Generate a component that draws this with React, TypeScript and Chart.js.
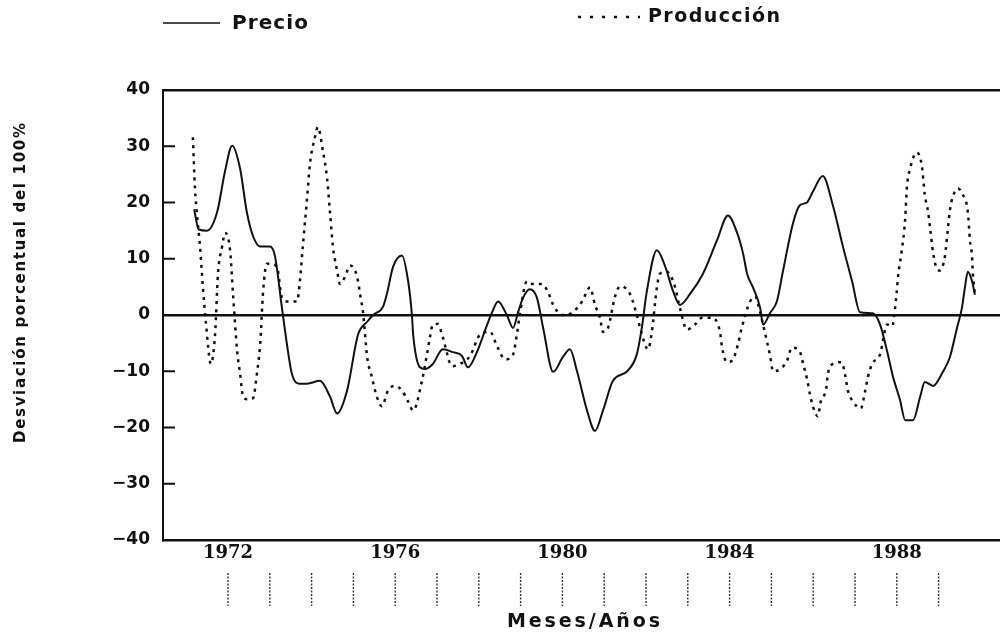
import React, { useEffect, useRef } from 'react';
import { Chart, registerables } from 'chart.js';

Chart.register(...registerables);

// ---- Data ----
const precioYears = [
  1971.19, 1971.3, 1971.5, 1971.74, 1971.93, 1972.1, 1972.29, 1972.45, 1972.6, 1972.77,
  1973.0, 1973.12, 1973.29, 1973.41, 1973.53, 1973.72, 1973.89, 1974.2, 1974.44, 1974.61,
  1974.85, 1975.11, 1975.33, 1975.47, 1975.71, 1975.8, 1975.95, 1976.16, 1976.31, 1976.4,
  1976.43, 1976.59, 1976.71, 1976.9, 1977.14, 1977.38, 1977.6, 1977.74, 1977.96, 1978.2,
  1978.32, 1978.46, 1978.67, 1978.82, 1978.94, 1979.06, 1979.22, 1979.39, 1979.54, 1979.78,
  1980.01, 1980.18, 1980.35, 1980.59, 1980.78, 1980.97, 1981.21, 1981.55, 1981.78, 1981.9,
  1982.02, 1982.26, 1982.45, 1982.65, 1982.81, 1983.05, 1983.36, 1983.7, 1983.96, 1984.18,
  1984.32, 1984.42, 1984.56, 1984.73, 1984.8, 1984.97, 1985.13, 1985.28, 1985.52, 1985.68,
  1985.85, 1985.99, 1986.23, 1986.47, 1986.71, 1986.93, 1987.12, 1987.43, 1987.6, 1987.77,
  1987.91, 1988.08, 1988.2, 1988.39, 1988.56, 1988.67, 1988.87, 1989.11, 1989.27, 1989.44,
  1989.56, 1989.63, 1989.7, 1989.8, 1989.87,
];
const precioValues = [
  18.8, 15.2, 15.0, 18.3, 25.6, 30.1, 26.0, 18.3, 14.0, 12.2,
  12.2, 10.6, 1.3, -5.2, -10.5, -12.2, -12.2, -11.7, -14.5, -17.5,
  -13.4, -3.5, -1.2, 0.0, 1.5, 3.7, 8.6, 10.6, 6.0, 0.0,
  -3.5, -9.3, -9.6, -8.7, -6.1, -6.6, -7.3, -9.3, -6.5, -1.7,
  0.5, 2.4, 0.0, -2.3, 0.5, 3.1, 4.6, 3.1, -2.3, -10.1,
  -7.5, -6.1, -10.0, -17.0, -20.6, -17.0, -11.7, -10.0, -7.0, -2.3,
  4.2, 11.5, 8.8, 4.2, 1.8, 3.7, 7.3, 13.3, 17.7, 14.6,
  11.0, 7.3, 4.9, 1.3, -1.7, 0.4, 2.4, 7.9, 16.4, 19.5,
  20.0, 21.9, 24.7, 19.5, 12.2, 6.0, 0.5, 0.3, -1.7, -6.5,
  -11.0, -15.2, -18.7, -18.7, -14.5, -11.9, -12.6, -10.0, -7.5, -2.3,
  1.3, 4.9, 7.7, 6.0, 3.6,
];

const produccionYears = [
  1971.16, 1971.21, 1971.26, 1971.33, 1971.4, 1971.47, 1971.59, 1971.69, 1971.76, 1971.86,
  1971.93, 1972.05, 1972.12, 1972.22, 1972.29, 1972.36, 1972.48, 1972.6, 1972.69, 1972.77,
  1972.84, 1972.93, 1973.0, 1973.17, 1973.29, 1973.44, 1973.65, 1973.72, 1973.79, 1973.89,
  1973.96, 1974.08, 1974.15, 1974.27, 1974.37, 1974.44, 1974.51, 1974.61, 1974.68, 1974.8,
  1974.92, 1975.04, 1975.11, 1975.16, 1975.23, 1975.33, 1975.44, 1975.56, 1975.68, 1975.83,
  1976.0, 1976.16, 1976.31, 1976.43, 1976.64, 1976.76, 1976.83, 1976.9, 1977.02, 1977.14,
  1977.36, 1977.55, 1977.79, 1978.03, 1978.27, 1978.44, 1978.63, 1978.82, 1978.91, 1978.99,
  1979.15, 1979.3, 1979.51, 1979.66, 1979.78, 1979.99, 1980.23, 1980.47, 1980.66, 1980.78,
  1980.9, 1980.97, 1981.09, 1981.26, 1981.38, 1981.62, 1981.78, 1981.86, 1982.05, 1982.14,
  1982.26, 1982.33, 1982.5, 1982.69, 1982.81, 1982.98, 1983.17, 1983.34, 1983.58, 1983.77,
  1983.82, 1983.94, 1984.08, 1984.2, 1984.29, 1984.49, 1984.61, 1984.73, 1984.8, 1984.9,
  1984.97, 1985.04, 1985.21, 1985.37, 1985.49, 1985.68, 1985.76, 1985.85, 1985.92, 1985.99,
  1986.11, 1986.18, 1986.31, 1986.35, 1986.47, 1986.68, 1986.76, 1986.83, 1986.95, 1987.14,
  1987.24, 1987.31, 1987.41, 1987.6, 1987.77, 1987.89, 1987.96, 1988.0, 1988.03, 1988.12,
  1988.2, 1988.24, 1988.32, 1988.48, 1988.6, 1988.67, 1988.75, 1988.79, 1988.87, 1988.96,
  1989.03, 1989.15, 1989.23, 1989.27, 1989.34, 1989.46, 1989.58, 1989.7, 1989.75, 1989.8,
  1989.82, 1989.87,
];
const produccionValues = [
  31.6, 22.5, 17.7, 12.2, 4.9, -1.2, -8.7, -3.5, 7.3, 12.2,
  14.6, 11.5, 3.7, -6.5, -10.5, -14.5, -15.0, -14.8, -10.5, -5.2,
  4.2, 9.1, 9.1, 8.6, 3.1, 2.4, 2.4, 6.0, 12.2, 20.6,
  26.8, 31.6, 33.4, 29.2, 24.3, 18.3, 12.2, 7.9, 5.5, 6.8,
  8.8, 7.9, 6.0, 3.7, 0.5, -7.5, -11.0, -14.5, -16.2, -13.4,
  -12.6, -13.4, -15.4, -17.0, -11.7, -7.0, -4.0, -1.7, -1.6, -4.0,
  -9.1, -8.7, -7.3, -3.5, -3.0, -5.6, -7.9, -7.0, -3.5, 0.5,
  6.0, 5.5, 5.5, 4.0, 1.8, 0.0, 0.4, 2.4, 4.9, 1.8,
  -0.5, -3.0, -2.3, 3.3, 5.1, 3.7, 0.0, -2.3, -6.1, -3.0,
  4.9, 7.3, 7.7, 5.1, 1.3, -2.6, -1.7, -0.5, -0.5, -3.0,
  -5.8, -8.4, -7.9, -5.2, -2.3, 2.4, 3.3, 0.5, -1.7, -4.9,
  -7.3, -10.0, -9.6, -8.2, -5.8, -6.5, -8.7, -11.3, -14.0, -16.2,
  -18.0, -15.4, -13.1, -10.5, -8.7, -8.4, -10.5, -13.4, -15.4, -16.6,
  -13.6, -11.0, -8.7, -7.0, -1.7, -2.0, 1.3, 4.2, 6.8, 11.5,
  17.0, 22.5, 26.1, 28.9, 26.5, 21.4, 18.3, 15.9, 11.0, 8.2,
  7.9, 10.4, 15.9, 18.6, 21.0, 22.5, 21.4, 18.3, 13.3, 10.4,
  7.3, 3.6,
];

const yearLabels = [1972, 1976, 1980, 1984, 1988];
const markYears = [
  1972, 1973, 1974, 1975, 1976, 1977, 1978, 1979, 1980,
  1981, 1982, 1983, 1984, 1985, 1986, 1987, 1988, 1989,
];
const innerTickValues = [-30, -20, -10, 10, 20, 30];
const seriesNames = ['Precio', 'Producción'];
const xTitle = 'Meses/Años';
const yTitle = 'Desviación porcentual del 100%';

const INK = '#111111';

function drawFitted(
  ctx: CanvasRenderingContext2D,
  text: string,
  cx: number,
  cy: number,
  width: number,
  align: 'center' | 'left' = 'center'
) {
  const anyCtx = ctx as any;
  anyCtx.letterSpacing = '0px';
  const w = ctx.measureText(text).width;
  const ls = (width - w) / Math.max(1, text.length - 1);
  anyCtx.letterSpacing = ls + 'px';
  ctx.textBaseline = 'middle';
  ctx.textAlign = 'left';
  if (align === 'center') {
    ctx.fillText(text, cx - width / 2, cy);
  } else {
    ctx.fillText(text, cx, cy);
  }
  anyCtx.letterSpacing = '0px';
}

const decorPlugin = {
  id: 'decor',
  afterDraw(chart: any) {
    const { ctx, chartArea, scales } = chart;
    const xs = scales.x;
    const ys = scales.y;
    ctx.save();
    ctx.strokeStyle = INK;
    ctx.fillStyle = INK;

    // inward ticks on y axis
    ctx.lineWidth = 2;
    innerTickValues.forEach((v) => {
      const y = ys.getPixelForValue(v);
      ctx.beginPath();
      ctx.moveTo(chartArea.left, y);
      ctx.lineTo(chartArea.left + 12, y);
      ctx.stroke();
    });

    // dashed year marks under the axis
    ctx.lineWidth = 1.4;
    ctx.strokeStyle = '#333333';
    ctx.setLineDash([2, 1.5]);
    markYears.forEach((yr) => {
      const x = xs.getPixelForValue(yr);
      ctx.beginPath();
      ctx.moveTo(x, chartArea.bottom + 33);
      ctx.lineTo(x, chartArea.bottom + 66);
      ctx.stroke();
    });
    ctx.setLineDash([]);
    ctx.strokeStyle = INK;

    // axis titles
    ctx.font = 'bold 19px "DejaVu Sans"';
    drawFitted(ctx, xTitle, (chartArea.left + chartArea.right) / 2 + 2, 622, 153);

    ctx.save();
    ctx.translate(21, 283);
    ctx.rotate(-Math.PI / 2);
    ctx.font = 'bold 15px "DejaVu Sans"';
    drawFitted(ctx, yTitle, 0, 0, 320);
    ctx.restore();

    // legend
    const ds = chart.data.datasets;
    ctx.lineWidth = 1.6;
    ctx.strokeStyle = ds[0].borderColor;
    ctx.beginPath();
    ctx.moveTo(163, 23);
    ctx.lineTo(220, 23);
    ctx.stroke();
    ctx.font = 'bold 20px "DejaVu Sans"';
    drawFitted(ctx, ds[0].label, 232, 24, 76, 'left');

    ctx.lineWidth = 2.5;
    ctx.strokeStyle = ds[1].borderColor;
    ctx.setLineDash([3, 9]);
    ctx.beginPath();
    ctx.moveTo(578, 17);
    ctx.lineTo(640, 17);
    ctx.stroke();
    ctx.setLineDash([]);
    ctx.font = 'bold 19px "DejaVu Sans"';
    drawFitted(ctx, ds[1].label, 648, 17, 132, 'left');

    ctx.restore();
  },
};

export default function App() {
  const canvasRef = useRef<HTMLCanvasElement | null>(null);

  useEffect(() => {
    if (!canvasRef.current) return;
    const precioData = precioYears.map((x, i) => ({ x, y: precioValues[i] }));
    const produccionData = produccionYears.map((x, i) => ({ x, y: produccionValues[i] }));

    const chart = new Chart(canvasRef.current, {
      type: 'line',
      data: {
        datasets: [
          {
            label: seriesNames[0],
            data: precioData,
            borderColor: INK,
            borderWidth: 2,
            pointRadius: 0,
            cubicInterpolationMode: 'monotone',
            fill: false,
          },
          {
            label: seriesNames[1],
            data: produccionData,
            borderColor: INK,
            borderWidth: 2.5,
            borderDash: [3, 5],
            pointRadius: 0,
            cubicInterpolationMode: 'monotone',
            fill: false,
          },
        ],
      },
      options: {
        animation: false,
        responsive: true,
        maintainAspectRatio: false,
        layout: { padding: { top: 90, left: 0, right: 0, bottom: 0 } },
        plugins: {
          legend: { display: false },
          tooltip: { enabled: false },
        },
        scales: {
          x: {
            type: 'linear',
            min: 1970.445,
            max: 1990.469,
            afterFit: (s: any) => {
              s.height = 92;
            },
            afterBuildTicks: (s: any) => {
              s.ticks = yearLabels.map((v) => ({ value: v }));
            },
            grid: { display: false, drawTicks: false },
            border: { display: true, color: INK, width: 2.5 },
            ticks: {
              padding: 3,
              color: INK,
              autoSkip: false,
              maxRotation: 0,
              font: { family: '"DejaVu Serif"', weight: 'bold', size: 18 },
              callback: (v: any) => String(v),
            },
          },
          y: {
            min: -40,
            max: 40,
            afterFit: (s: any) => {
              s.width = 163;
            },
            grid: {
              drawTicks: false,
              color: (c: any) =>
                c.tick && (c.tick.value === 0 || c.tick.value === 40) ? INK : 'rgba(0,0,0,0)',
              lineWidth: 2.5,
            },
            border: { display: true, color: INK, width: 2 },
            ticks: {
              stepSize: 10,
              padding: 13,
              color: INK,
              font: { family: '"DejaVu Sans"', weight: 'bold', size: 17 },
              callback: (v: any) => (v < 0 ? '\u2212' + Math.abs(v) : String(v)),
            },
          },
        },
      },
      plugins: [decorPlugin],
    } as any);

    return () => {
      chart.destroy();
    };
  }, []);

  return (
    <div
      style={{
        position: 'absolute',
        left: 0,
        top: 0,
        width: 1000,
        height: 632,
        background: '#ffffff',
      }}
    >
      <canvas ref={canvasRef} />
    </div>
  );
}
